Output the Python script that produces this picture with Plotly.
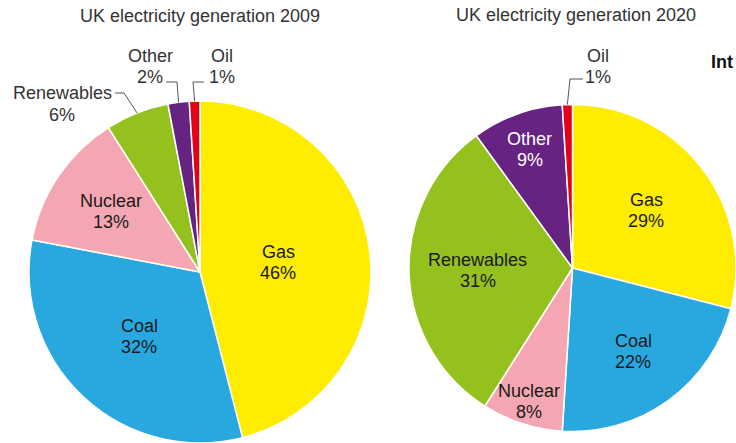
import math
import plotly.graph_objects as go

# ---------------- data ----------------
categories = ["Gas", "Coal", "Nuclear", "Renewables", "Other", "Oil"]
share_2009 = [46, 32, 13, 6, 2, 1]
share_2020 = [29, 22, 8, 31, 9, 1]
titles = ["UK electricity generation 2009", "UK electricity generation 2020"]

# ---------------- style / layout ----------------
W, H = 736, 443
colors = ["#FFED00", "#29A8E0", "#F4A7B2", "#95C11F", "#662382", "#E2001A"]
FONT = "Liberation Sans, Arial, sans-serif"
LABEL_SIZE = 18
LINE_GAP = 21

# pie geometry in pixels (center x, center y, radius)
geom = [(200, 272, 171), (572.5, 268, 163.5)]
title_pos = [(200, 16), (576, 15)]

# label placement: ("in", radius fraction, text color) or ("out", label xy, elbow xy, end xy)
label_style = [
    {
        "Gas": ("in", 0.46, "#1a1a1a"),
        "Coal": ("in", 0.52, "#1a1a1a"),
        "Nuclear": ("in", 0.63, "#1a1a1a"),
        "Renewables": ("out", (62, 104), (124, 93), (115, 93)),
        "Other": ("out", (150, 67), (177, 82), (166, 82)),
        "Oil": ("out", (222, 67), (193, 82), (204, 82)),
    },
    {
        "Gas": ("in", 0.57, "#1a1a1a"),
        "Coal": ("in", 0.63, "#1a1a1a"),
        "Nuclear": ("in", 0.86, "#1a1a1a"),
        "Renewables": ("in", 0.58, "#1a1a1a"),
        "Other": ("in", 0.77, "#ffffff"),
        "Oil": ("out", (598, 66), (570, 79), (583, 79)),
    },
]


def px(x):
    return x / W


def py(y):
    return 1 - y / H


fig = go.Figure()
annotations = []
shapes = []


def add_label(lines, x, y, color):
    n = len(lines)
    for k, t in enumerate(lines):
        yy = y + (k - (n - 1) / 2) * LINE_GAP
        annotations.append(dict(x=px(x), y=py(yy), xref="paper", yref="paper",
                                text=t, showarrow=False,
                                xanchor="center", yanchor="middle",
                                font=dict(family=FONT, size=LABEL_SIZE, color=color)))


for i, values in enumerate([share_2009, share_2020]):
    cx, cy, r = geom[i]
    fig.add_trace(go.Pie(
        labels=categories,
        values=values,
        sort=False,
        direction="clockwise",
        rotation=0,
        textinfo="none",
        hoverinfo="label+percent",
        marker=dict(colors=colors, line=dict(color="white", width=1.5)),
        domain=dict(x=[max(0, px(cx - r)), min(1, px(cx + r))],
                    y=[max(0, py(cy + r)), min(1, py(cy - r))]),
        showlegend=False,
    ))
    tx, ty = title_pos[i]
    annotations.append(dict(x=px(tx), y=py(ty), xref="paper", yref="paper",
                            text=titles[i], showarrow=False,
                            xanchor="center", yanchor="middle",
                            font=dict(family=FONT, size=18, color="#333333")))
    total = sum(values)
    cum = 0
    for cat, v in zip(categories, values):
        mid = (cum + v / 2) / total
        cum += v
        theta = 2 * math.pi * mid
        lines = [cat, f"{round(100 * v / total)}%"]
        st = label_style[i][cat]
        if st[0] == "in":
            f, col = st[1], st[2]
            lx = cx + r * f * math.sin(theta)
            ly = cy - r * f * math.cos(theta)
            add_label(lines, lx, ly, col)
        else:
            (lx, ly), (ex, ey), (hx, hy) = st[1], st[2], st[3]
            edge_x = cx + r * math.sin(theta)
            edge_y = cy - r * math.cos(theta)
            add_label(lines, lx, ly, "#333333")
            for (x0, y0, x1, y1) in [(edge_x, edge_y, ex, ey), (ex, ey, hx, hy)]:
                shapes.append(dict(type="line", xref="paper", yref="paper",
                                   x0=px(x0), y0=py(y0), x1=px(x1), y1=py(y1),
                                   line=dict(color="#555555", width=1)))

# bold heading at the right edge
annotations.append(dict(x=px(735), y=py(62), xref="paper", yref="paper",
                        text="<b>Int</b>", showarrow=False,
                        xanchor="right", yanchor="middle",
                        font=dict(family=FONT, size=18, color="#111111")))

fig.update_layout(
    width=W, height=H, autosize=False,
    margin=dict(l=0, r=0, t=0, b=0),
    paper_bgcolor="white", plot_bgcolor="white",
    annotations=annotations, shapes=shapes,
    font=dict(family=FONT),
)

fig.write_html("out.html")
